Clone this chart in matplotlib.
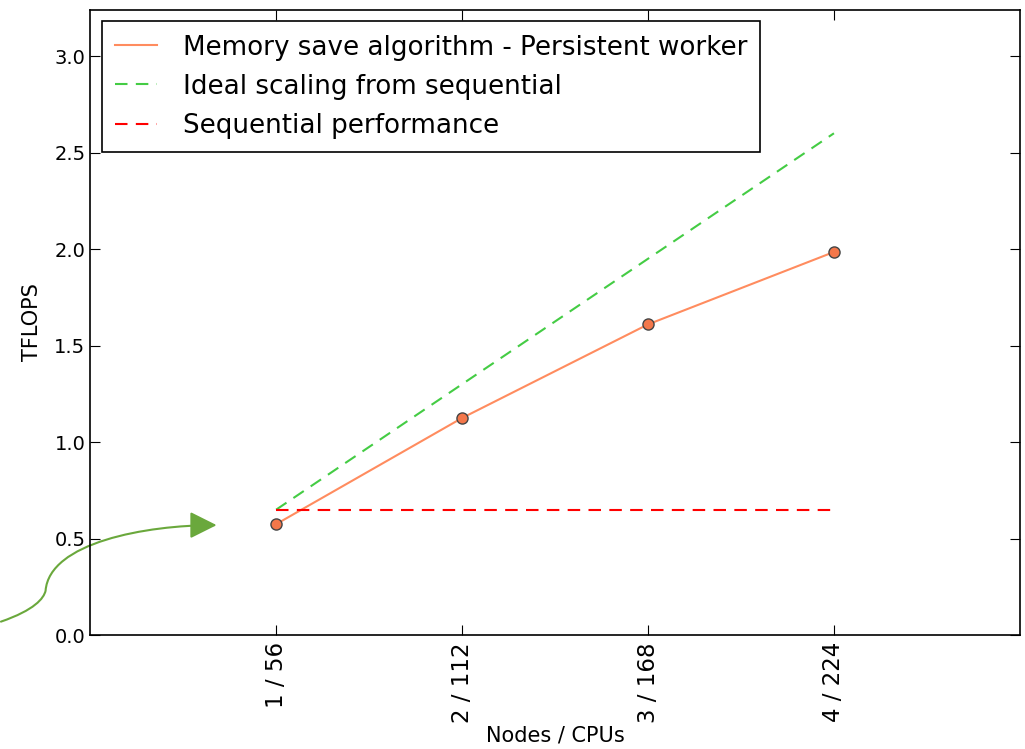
import numpy as np
import matplotlib
matplotlib.use("Agg")
import matplotlib.pyplot as plt
from matplotlib.path import Path
from matplotlib.patches import FancyArrowPatch

# ── Data ────────────────────────────────────────────────────────────
nodes = [1, 2, 3, 4]
tick_labels = ["1 / 56", "2 / 112", "3 / 168", "4 / 224"]
persistent = [0.575, 1.125, 1.61, 1.985]
sequential = 0.65
ideal = [sequential * n for n in nodes]

plt.rcParams.update({
    "font.family": "DejaVu Sans",
    "xtick.direction": "in",
    "ytick.direction": "in",
    "xtick.top": True,
    "ytick.right": True,
    "xtick.major.size": 7,
    "ytick.major.size": 7,
})

DASH = (0, (6, 4))

fig = plt.figure(figsize=(10.25, 7.49), dpi=100)
ax = fig.add_axes([0.088, 0.152, 0.907, 0.835])

ax.plot(nodes, persistent, color="#ff8c5f", linewidth=1.5,
        label="Memory save algorithm - Persistent worker")
ax.plot(nodes, persistent, "o", color="#f4774a", markeredgecolor="#444444",
        markeredgewidth=1, markersize=8)
ax.plot(nodes, ideal, linestyle=DASH, color="#44cc44", linewidth=1.5,
        label="Ideal scaling from sequential")
ax.plot(nodes, [sequential] * len(nodes), linestyle=DASH, color="red",
        linewidth=1.5, label="Sequential performance")

ax.set_xlim(0, 5)
ax.set_ylim(0, 3.24)
ax.set_xticks(nodes)
ax.set_xticklabels(tick_labels, rotation=90)
ax.set_yticks(np.arange(0, 3.01, 0.5))
ax.tick_params(axis="y", labelsize=14)
ax.tick_params(axis="x", labelsize=16.5, pad=5)
for s in ax.spines.values():
    s.set_linewidth(1.2)

ax.set_xlabel("Nodes / CPUs", fontsize=15, labelpad=2)
ax.set_ylabel("TFLOPS", fontsize=15, labelpad=9)

leg = ax.legend(loc="upper left", fontsize=18.8, fancybox=False,
                framealpha=1, edgecolor="black", handlelength=1.6,
                handletextpad=1.0, borderaxespad=0.45, labelspacing=0.5,
                borderpad=0.5)
leg.get_frame().set_linewidth(1.2)

# curved pointer arrow towards the first measurement
verts = [(-0.48, 0.07), (-0.30, 0.13), (-0.25, 0.19), (-0.24, 0.23),
         (-0.22, 0.48), (0.30, 0.57), (0.68, 0.57)]
codes = [Path.MOVETO, Path.CURVE4, Path.CURVE4, Path.CURVE4,
         Path.CURVE4, Path.CURVE4, Path.CURVE4]
arrow = FancyArrowPatch(path=Path(verts, codes), arrowstyle="-|>,head_length=1.1,head_width=0.55",
                        mutation_scale=15, color="#6aa83c", linewidth=1.5,
                        clip_on=False, transform=ax.transData)
ax.add_patch(arrow)

fig.savefig("out.png", dpi=100)
